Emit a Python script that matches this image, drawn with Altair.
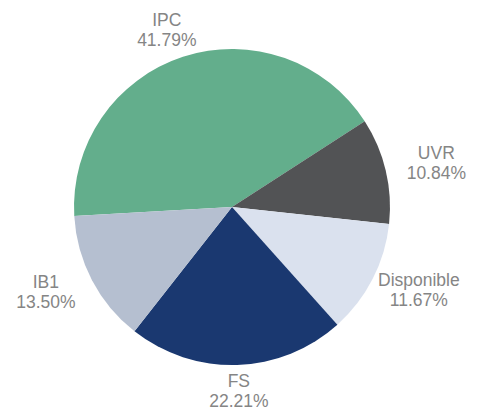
import math
import altair as alt
import pandas as pd

categories = ["IPC", "UVR", "Disponible", "FS", "IB1"]
values = [41.79, 10.84, 11.67, 22.21, 13.50]
colors = ["#63AE8C", "#525355", "#DAE1EE", "#1A3870", "#B5BFD0"]

df = pd.DataFrame({
    "cat": categories,
    "val": values,
    "order": list(range(len(categories))),
    "label": [f"{c}\n{v:.2f}%" for c, v in zip(categories, values)],
})

W, H = 448, 398
start = math.radians(266.7)
theta_scale = alt.Scale(range=[start, start + 2 * math.pi])

arc = alt.Chart(df).mark_arc(outerRadius=158).encode(
    theta=alt.Theta("val:Q", stack=True, scale=theta_scale),
    order=alt.Order("order:Q"),
    color=alt.Color("cat:N", scale=alt.Scale(domain=categories, range=colors), legend=None),
)

# label anchors placed just outside the pie (outside-end style), computed from the slices
text = alt.Chart(df).transform_window(
    cum="sum(val)", sort=[alt.SortField("order")], frame=[None, 0]
).transform_joinaggregate(
    total="sum(val)"
).transform_calculate(
    mid=f"{start} + 2*PI*(datum.cum - datum.val/2)/datum.total"
).transform_calculate(
    lx=f"{W/2} + 210*sin(datum.mid)",
    ly=f"{H/2} - 185*cos(datum.mid)",
).mark_text(
    fontSize=17.5, font="Liberation Sans", color="#858585",
    lineBreak="\n", lineHeight=20, baseline="middle", align="center", dy=-10
).encode(
    x=alt.X("lx:Q", scale=None),
    y=alt.Y("ly:Q", scale=None),
    text="label:N",
)

chart = (arc + text).properties(
    width=W, height=H,
    autosize=alt.AutoSizeParams(type="none"),
    padding={"left": 0, "top": 0, "right": 24, "bottom": 13},
).configure_view(stroke=None)

chart.save("out.html", embed_options={"renderer": "svg", "actions": False})
